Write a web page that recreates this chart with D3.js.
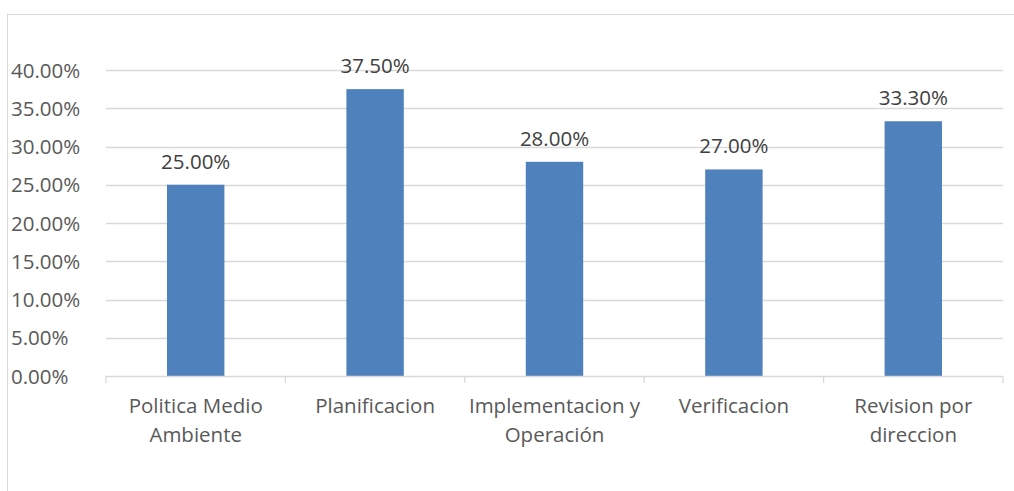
<!DOCTYPE html>
<html>
<head>
<meta charset="utf-8">
<style>
  body { margin: 0; background: #fff; }
  svg { display: block; font-family: "Open Sans", Lato, sans-serif; }
</style>
</head>
<body>
<svg width="1014" height="491"></svg>
<script src="https://d3js.org/d3.v7.min.js"></script>
<script>
const categories = [["Politica Medio", "Ambiente"], ["Planificacion"], ["Implementacion y", "Operación"], ["Verificacion"], ["Revision por", "direccion"]];
const values = [0.25, 0.375, 0.28, 0.27, 0.333];
const ticks = [0, 0.05, 0.10, 0.15, 0.20, 0.25, 0.30, 0.35, 0.40];

const svg = d3.select("svg");

// chart border
svg.append("rect")
  .attr("x", 7.5).attr("y", 14.5)
  .attr("width", 1020).attr("height", 500)
  .attr("fill", "none").attr("stroke", "#d9d9d9");

const plotLeft = 106, plotRight = 1003, plotTop = 70, plotBottom = 376;
const fs = 20.5;

const x = d3.scaleBand().domain(d3.range(values.length)).range([plotLeft, plotRight]).paddingInner(0.68).paddingOuter(0.34);
const y = d3.scaleLinear().domain([0, 0.4]).range([plotBottom, plotTop]);

// gridlines
svg.append("g").selectAll("line").data(ticks.slice(1)).join("line")
  .attr("x1", plotLeft).attr("x2", plotRight)
  .attr("y1", d => Math.round(y(d)) + 0.5).attr("y2", d => Math.round(y(d)) + 0.5)
  .attr("stroke", "#d9d9d9").attr("stroke-width", 1.3);

// y labels
svg.append("g").selectAll("text").data(ticks).join("text")
  .attr("x", 11).attr("y", d => y(d) + 7.5)
  .attr("font-size", fs).attr("fill", "#595959")
  .text(d => d3.format(".2%")(d));

// bars
svg.append("g").selectAll("rect").data(values).join("rect")
  .attr("x", (d, i) => x(i)).attr("width", x.bandwidth())
  .attr("y", d => y(d)).attr("height", d => plotBottom - y(d))
  .attr("fill", "#4f81bd");

// value labels
svg.append("g").selectAll("text").data(values).join("text")
  .attr("x", (d, i) => x(i) + x.bandwidth() / 2).attr("y", d => y(d) - 16)
  .attr("text-anchor", "middle").attr("font-size", fs).attr("fill", "#404040")
  .text(d => d3.format(".2%")(d));

// x axis
const step = (plotRight - plotLeft) / values.length;
const ax = svg.append("g").attr("stroke", "#d9d9d9").attr("stroke-width", 1.3);
ax.append("line").attr("x1", plotLeft).attr("x2", plotRight).attr("y1", plotBottom + 0.5).attr("y2", plotBottom + 0.5);
ax.selectAll(".tk").data(d3.range(values.length + 1)).join("line")
  .attr("x1", i => plotLeft + i * step).attr("x2", i => plotLeft + i * step)
  .attr("y1", plotBottom).attr("y2", plotBottom + 7);

// category labels
svg.append("g").selectAll("text").data(categories).join("text")
  .attr("text-anchor", "middle").attr("font-size", fs).attr("fill", "#595959")
  .attr("transform", (d, i) => `translate(${x(i) + x.bandwidth() / 2},${plotBottom + 37})`)
  .selectAll("tspan").data(d => d).join("tspan")
  .attr("x", 0).attr("dy", (d, j) => j ? 29 : 0)
  .text(d => d);
</script>
</body>
</html>
